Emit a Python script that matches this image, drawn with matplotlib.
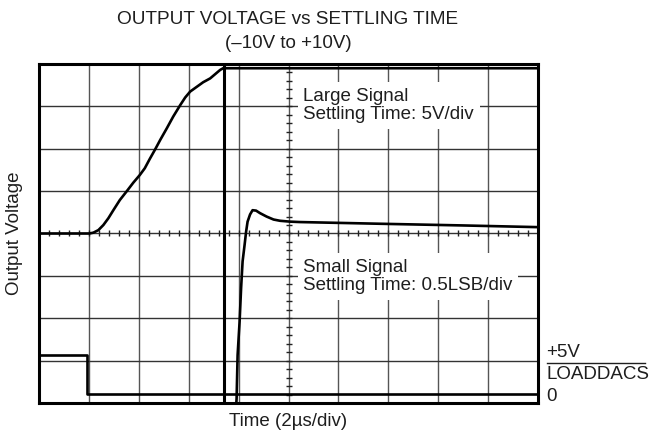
import numpy as np
import matplotlib.pyplot as plt

plt.rcParams['font.family'] = ['Liberation Sans', 'DejaVu Sans']

# traces, in scope divisions (x: 0..10, y: -4..4)
large_x = [0, 1.01, 1.09, 1.19, 1.29, 1.39, 1.49, 1.62, 1.76, 1.89, 2.02, 2.12, 2.22,
           2.33, 2.43, 2.56, 2.69, 2.83, 2.93, 3.03, 3.16, 3.29, 3.43, 3.53, 3.63, 3.69, 10]
large_y = [0, 0, 0.02, 0.08, 0.20, 0.36, 0.55, 0.79, 1.00, 1.20, 1.38, 1.54, 1.76,
           1.99, 2.21, 2.48, 2.76, 3.03, 3.21, 3.35, 3.46, 3.57, 3.66, 3.76, 3.86, 3.90, 3.90]

small_x = [3.94, 3.96, 3.98, 4.02, 4.05, 4.08, 4.12, 4.15, 4.18, 4.23, 4.28, 4.35, 4.43,
           4.56, 4.70, 4.83, 5.03, 5.23, 6.83, 8.5, 10]
small_y = [-4.3, -3.89, -2.87, -2.08, -1.29, -0.66, -0.27, 0.04, 0.28, 0.45, 0.55, 0.54, 0.48,
           0.40, 0.33, 0.30, 0.28, 0.27, 0.23, 0.19, 0.15]

ldac_x = [0, 0.97, 0.97, 10]
ldac_y = [-2.87, -2.87, -3.79, -3.79]

cursor_x = 3.7

W, H = 649, 436
fig = plt.figure(figsize=(W / 100, H / 100), dpi=100)
ax = fig.add_axes([39 / W, (H - 403) / H, 499 / W, 339 / H])
ax.set_xlim(0, 10)
ax.set_ylim(-4, 4)
ax.set_xticks([])
ax.set_yticks([])
for s in ax.spines.values():
    s.set_linewidth(2.2)
    s.set_zorder(6)

# grid
for gx in range(1, 10):
    ax.axvline(gx, color='#555555', lw=1.0, zorder=1)
for gy in range(-3, 4):
    ax.axhline(gy, color='#333333', lw=1.0, zorder=1)

# minor ticks on the centre lines
tx = np.arange(0, 10.01, 0.2)
ax.plot(tx, np.zeros_like(tx), ls='none', marker='|', ms=5, mew=1.0, color='#222222', zorder=1)
ty = np.arange(-4, 4.01, 0.2)
ax.plot(np.full_like(ty, 5), ty, ls='none', marker='_', ms=5, mew=1.0, color='#222222', zorder=1)

tc = '#1e1e1e'
fs = 13.5
box = dict(facecolor='white', edgecolor='none', pad=4)
ax.text(5.3, 3.02, 'Large Signal\nSettling Time: 5V/div', fontsize=fs, color=tc,
        va='center', ha='left', linespacing=1.1, bbox=box, zorder=2)
ax.text(5.3, -1.02, 'Small Signal\nSettling Time: 0.5LSB/div', fontsize=fs, color=tc,
        va='center', ha='left', linespacing=1.1, bbox=box, zorder=2)

ax.axvline(cursor_x, color='black', lw=2.2, zorder=4)
ax.plot(large_x, large_y, color='black', lw=1.9, zorder=5)
ax.plot(small_x, small_y, color='black', lw=1.9, zorder=5, clip_on=True)
ax.plot(ldac_x, ldac_y, color='black', lw=1.9, zorder=5)

def fx(x):
    return x / W

def fy(y):
    return 1 - y / H

fig.text(fx(288), fy(20), 'OUTPUT VOLTAGE vs SETTLING TIME', fontsize=13.7, color=tc, ha='center', va='center')
fig.text(fx(288), fy(43), '(\u201310V to +10V)', fontsize=fs, color=tc, ha='center', va='center')
fig.text(fx(15), fy(233), 'Output Voltage', fontsize=fs, color=tc, ha='center', va='center', rotation=90)
fig.text(fx(288), fy(421), 'Time (2\u00b5s/div)', fontsize=fs, color=tc, ha='center', va='center')

fig.text(fx(546), fy(352), '+5V', fontsize=fs, color=tc, ha='left', va='center')
fig.add_artist(plt.Line2D([fx(547), fx(645)], [fy(363), fy(363)], color=tc, lw=1.0))
fig.text(fx(546), fy(374), 'LOADDACS', fontsize=fs, color=tc, ha='left', va='center')
fig.text(fx(546), fy(396), '0', fontsize=fs, color=tc, ha='left', va='center')

fig.savefig('out.png', dpi=100)
